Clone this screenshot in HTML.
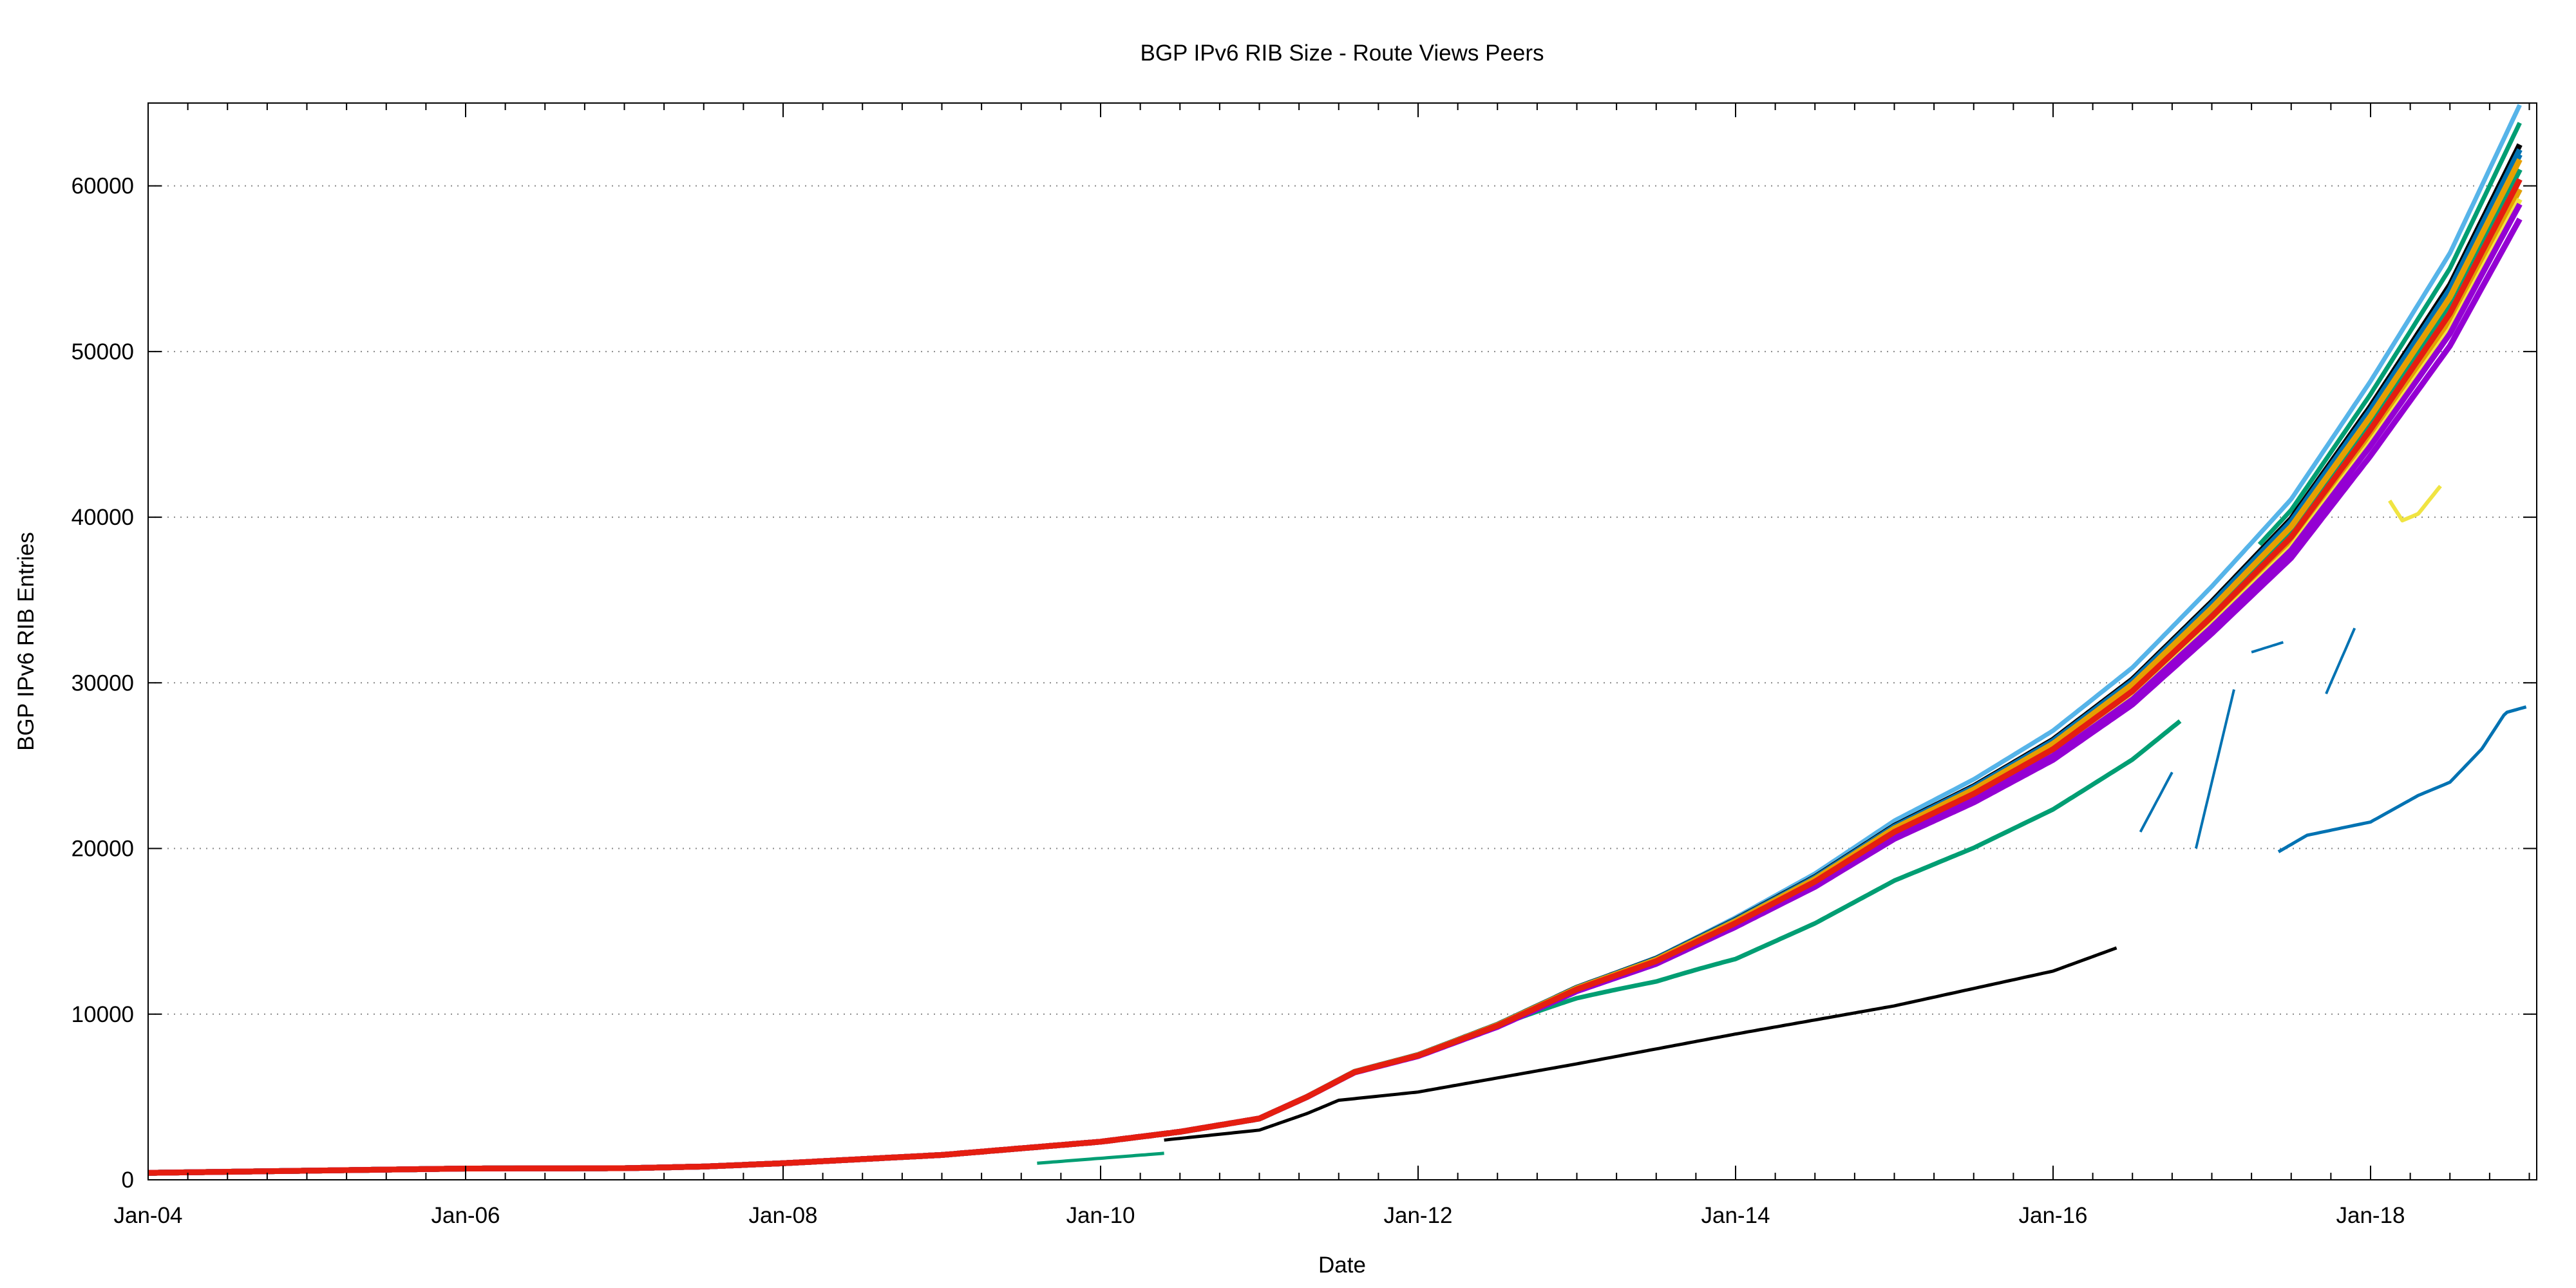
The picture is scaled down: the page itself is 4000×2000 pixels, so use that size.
<!DOCTYPE html>
<html><head><meta charset="utf-8"><style>
html,body{margin:0;padding:0;background:#fff;}
svg{display:block;}
text{font-family:"Liberation Sans",Arial,sans-serif;font-size:35px;fill:#000;}
</style></head><body>
<svg id="s" width="4000" height="2000" viewBox="0 0 4000 2000" xmlns="http://www.w3.org/2000/svg">
<defs><clipPath id="cp"><rect x="230" y="160" width="3709" height="1672"/></clipPath></defs>
<rect width="4000" height="2000" fill="#fff"/>
<g id="grid"></g>
<g id="data" clip-path="url(#cp)"></g>
<g id="axes"></g>
<text x="2084" y="94" text-anchor="middle">BGP IPv6 RIB Size - Route Views Peers</text>
<text x="2084" y="1976" text-anchor="middle">Date</text>
<text transform="translate(52,996) rotate(-90)" text-anchor="middle">BGP IPv6 RIB Entries</text>
</svg>
<script>
var NS="http://www.w3.org/2000/svg";
var L=230,R=3939,T=160,B=1832;
function X(t){return L+(t-2004)*246.5;}
function Y(v){return B-v*0.025723;}
function el(p,tag,a,txt){var e=document.createElementNS(NS,tag);for(var k in a)e.setAttribute(k,a[k]);if(txt!==undefined)e.textContent=txt;p.appendChild(e);return e;}
var grid=document.getElementById('grid'),axes=document.getElementById('axes'),data=document.getElementById('data');
for(var v=0;v<=60000;v+=10000){var y=Y(v);
 if(v>0) el(grid,'line',{x1:L,x2:R,y1:y,y2:y,stroke:'#888','stroke-width':2,'stroke-dasharray':'2,8'});
 el(axes,'line',{x1:L,x2:L+21,y1:y,y2:y,stroke:'#000','stroke-width':2});
 el(axes,'line',{x1:R-21,x2:R,y1:y,y2:y,stroke:'#000','stroke-width':2});
 el(axes,'text',{x:208,y:y+12,'text-anchor':'end'},String(v));}
for(var q=0;q<=60;q++){var t=2004+q/4,x=X(t);if(x>R+1)break;var maj=(q%8==0);var len=maj?22:11;
 el(axes,'line',{x1:x,x2:x,y1:B,y2:B-len,stroke:'#000','stroke-width':2});
 el(axes,'line',{x1:x,x2:x,y1:T,y2:T+len,stroke:'#000','stroke-width':2});
 if(maj){var yy=2004+q/4;el(axes,'text',{x:x,y:1899,'text-anchor':'middle'},'Jan-'+String(yy%100).padStart(2,'0'));}}
el(axes,'rect',{x:L,y:T,width:R-L,height:B-T,fill:'none',stroke:'#000','stroke-width':2});
var K=[[2004,420],[2005,550],[2006,680],[2007,700],[2007.5,800],[2008,1000],[2009,1500],[2010,2300],[2010.5,2900],[2011,3700],[2011.3,5000],[2011.6,6500],[2012,7500],[2012.5,9300],[2013,11500],[2013.5,13200],[2014,15500],[2014.5,18000],[2015,21000],[2015.5,23300],[2016,26000],[2016.5,29500],[2017,34000],[2017.5,38800],[2018,45300],[2018.5,52300],[2019,61500]];
function interp(K,t){for(var i=0;i<K.length-1;i++){if(t<=K[i+1][0]){var a=K[i],b=K[i+1],f=(t-a[0])/(b[0]-a[0]);return a[1]+f*(b[1]-a[1]);}}return K[K.length-1][1];}
function M(t){return interp(K,t);}
function path(fn,t0,t1,col,w){var d='';for(var t=t0;t<=t1+1e-9;t+=0.02){var v=fn(t);if(v==null)continue;d+=(d?'L':'M')+X(t).toFixed(1)+','+Y(v).toFixed(1);}
 el(data,'path',{d:d,fill:'none',stroke:col,'stroke-width':w||6,'stroke-linejoin':'round'});}
function sp(t){return Math.max(0,(t-2011)/8);}
var series=[['#56b4e9',-0.01],['#0072b2',0.025],['#e69f00',-0.01],['#f0e442',-0.02],['#9400d3',-0.04],['#009e73',0.01],['#000000',0.035],['#0072b2',0.03],['#56b4e9',0.0],['#e69f00',0.02],['#9400d3',-0.025],['#e51e10',0.0]];
path(function(t){return M(t)*(1+0.075*Math.max(0,(t-2012)/7));},2010,2018.95,'#56b4e9',7);
path(function(t){return M(t)*(1-0.14*Math.min(1,Math.max(0,(t-2012.5)/1.5)));},2012,2016.8,'#009e73',7);
path(function(t){return M(t)*(1.04+0.01*(t-2017.3));},2017.3,2018.95,'#009e73',7);
path(function(t){return 1000+(t-2009.6)*750;},2009.6,2010.4,'#009e73',5);
series.forEach(function(s){path(function(t){return M(t)*(1+s[1]*sp(t));},2004,2018.95,s[0],9);});
var KB=[[2010.4,2400],[2011,3000],[2011.3,4000],[2011.5,4800],[2012,5300],[2013,7000],[2014,8800],[2015,10500],[2016,12600],[2016.4,14000]];
path(function(t){return interp(KB,t);},2010.4,2016.4,'#000',5);
var KD=[[2017.42,19800],[2017.6,20800],[2018,21600],[2018.3,23200],[2018.5,24000],[2018.7,26000],[2018.85,28200],[2019,28600]];
path(function(t){return interp(KD,t);},2017.42,2018.98,'#0072b2',5);
path(function(t){return 20000+(t-2016.9)*40000;},2016.9,2017.15,'#0072b2',4);
path(function(t){return 30000+(t-2017.75)*22000;},2017.72,2017.9,'#0072b2',4);
path(function(t){return 32000+(t-2017.3)*3000;},2017.25,2017.45,'#0072b2',4);
path(function(t){return 21000+(t-2016.55)*18000;},2016.55,2016.75,'#0072b2',4);
var KY=[[2018.12,41000],[2018.2,39800],[2018.3,40200],[2018.45,42000]];
path(function(t){return interp(KY,t);},2018.12,2018.44,'#f0e442',6);
</script>
</body></html>
